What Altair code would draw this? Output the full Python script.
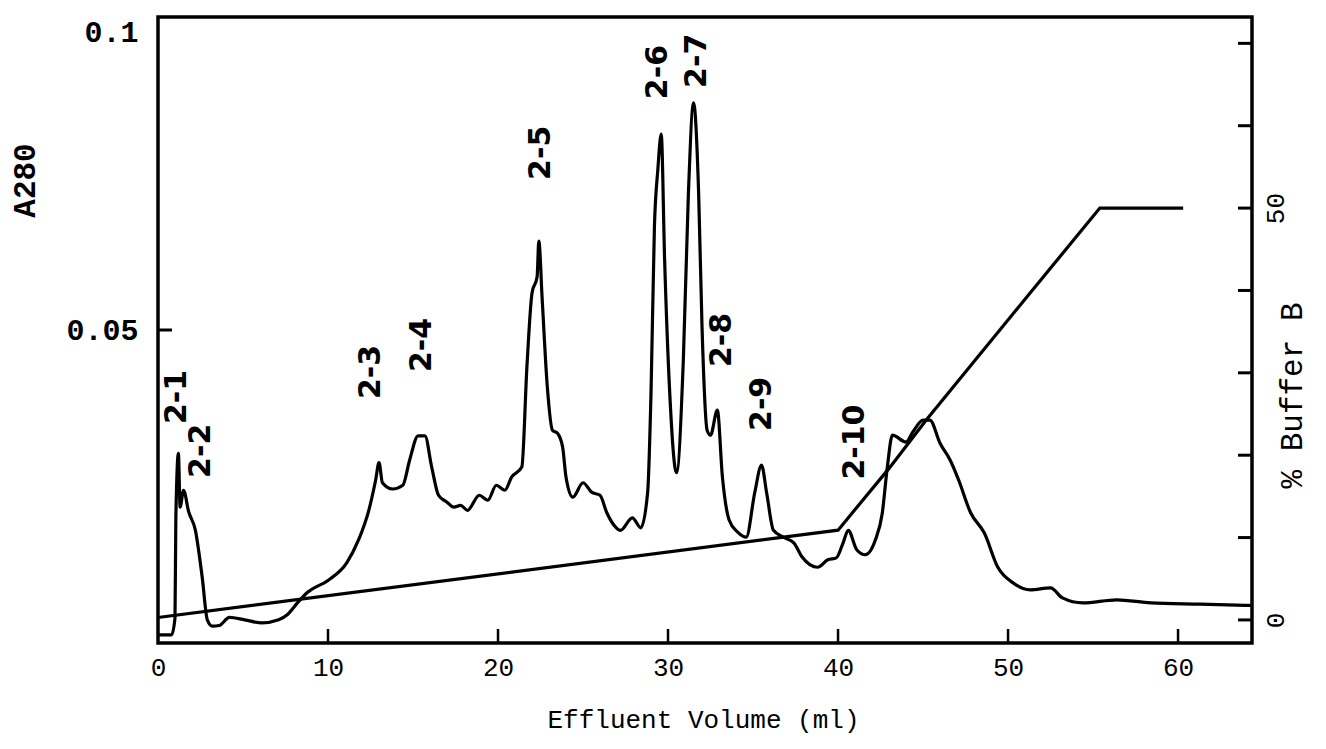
import altair as alt
import pandas as pd

# A280 trace: effluent volume (ml) and absorbance
vol = [0.0, 0.8, 1.0, 1.05, 1.2, 1.3, 1.5, 1.8, 2.2, 2.6, 2.9, 3.2, 3.6, 4.2, 5.1, 6.1,
       7.1, 7.6, 8.2, 8.8, 10.0, 11.1, 11.8, 12.4, 12.8, 13.0, 13.2, 13.8, 14.4, 14.8,
       15.3, 15.7, 16.1, 16.5, 17.0, 17.4, 17.8, 18.2, 18.9, 19.4, 19.9, 20.4, 20.8,
       21.4, 21.7, 22.0, 22.3, 22.4, 22.6, 22.9, 23.2, 23.5, 23.8, 24.0, 24.4, 25.0,
       25.5, 26.0, 26.4, 26.8, 27.2, 27.9, 28.4, 28.8, 29.0, 29.2, 29.4, 29.6, 29.8,
       30.1, 30.5, 30.9, 31.2, 31.5, 31.8, 32.0, 32.3, 32.5, 32.9, 33.2, 33.6, 34.1,
       34.6, 35.1, 35.5, 35.8, 36.2, 36.8, 37.4, 37.9, 38.8, 39.4, 39.9, 40.3, 40.6,
       41.1, 41.6, 42.2, 42.6, 42.9, 43.2, 44.0, 44.4, 45.0, 45.4, 46.0, 46.6, 47.1,
       47.8, 48.6, 49.4, 50.3, 51.3, 52.5, 53.2, 54.4, 56.4, 58.4, 61.3, 64.3]
a280 = [0.0013, 0.0013, 0.004, 0.020, 0.0303, 0.0217, 0.0244, 0.021, 0.018, 0.0105,
        0.0037, 0.0027, 0.0028, 0.0041, 0.0037, 0.0032, 0.0037, 0.0045, 0.0064, 0.0081,
        0.0100, 0.0128, 0.0165, 0.0212, 0.0260, 0.0288, 0.0256, 0.0246, 0.0252, 0.0292,
        0.0331, 0.0331, 0.0281, 0.0236, 0.0225, 0.0217, 0.0220, 0.0212, 0.0236, 0.0228,
        0.0252, 0.0244, 0.0265, 0.0281, 0.0441, 0.0559, 0.0585, 0.0642, 0.0548, 0.0409,
        0.0340, 0.0335, 0.0313, 0.0265, 0.0233, 0.0256, 0.0241, 0.0236, 0.0208, 0.0189,
        0.0180, 0.0200, 0.0184, 0.0240, 0.0400, 0.0665, 0.0756, 0.0813, 0.0612, 0.0400,
        0.0272, 0.0452, 0.0719, 0.0863, 0.0719, 0.0505, 0.0340, 0.0332, 0.0372, 0.0265,
        0.0196, 0.0177, 0.0169, 0.0240, 0.0284, 0.0240, 0.0180, 0.0169, 0.0160, 0.0137,
        0.0121, 0.0133, 0.0136, 0.0160, 0.0180, 0.0149, 0.0141, 0.0165, 0.0207, 0.0281,
        0.0332, 0.0321, 0.0337, 0.0356, 0.0356, 0.0319, 0.0292, 0.0260, 0.0208, 0.0176,
        0.0121, 0.0096, 0.0085, 0.0088, 0.0072, 0.0064, 0.0069, 0.0064, 0.0062, 0.0060]

# Buffer B gradient program
grad_vol = [0.0, 40.0, 43.0, 45.2, 50.9, 55.4, 60.3]
grad_pct = [0.3, 10.9, 18.4, 24.3, 38.7, 50.0, 50.0]

# Fraction labels
peak_names = ["2-1", "2-2", "2-3", "2-4", "2-5", "2-6", "2-7", "2-8", "2-9", "2-10"]
peak_vol = [1.1, 2.5, 12.5, 15.5, 22.5, 29.4, 31.7, 33.2, 35.5, 41.0]
peak_a = [0.0393, 0.0307, 0.0433, 0.0476, 0.0783, 0.0912, 0.0930, 0.0484, 0.0382, 0.0321]

x_ticks = [10, 20, 30, 40, 50, 60]
x_labels = [0, 10, 20, 30, 40, 50, 60]
left_ticks = [0.05]
right_ticks = [0, 10, 20, 30, 40, 50, 60, 70]

W, H = 1094, 626
MONO = "Liberation Mono"

trace_df = pd.DataFrame({"vol": vol, "a280": a280})
grad_df = pd.DataFrame({"vol": grad_vol, "pct": grad_pct})
peaks_df = pd.DataFrame({"name": peak_names, "vol": peak_vol, "a280": peak_a})

xscale = alt.Scale(domain=[0, 64.35], nice=False, zero=False)
yscale = alt.Scale(domain=[0, 0.1], nice=False)
rscale = alt.Scale(domain=[-2.8, 73.2], nice=False, zero=False)

x_enc = alt.X(
    "vol:Q", scale=xscale,
    axis=alt.Axis(values=x_labels, ticks=False, domain=False, grid=False,
                  labelFont=MONO, labelFontSize=26, labelColor="black",
                  labelPadding=11, labelFlush=False,
                  title="Effluent Volume (ml)", titleFont=MONO, titleFontSize=26,
                  titleFontWeight="normal", titleColor="black",
                  titleX=545, titleY=76, titleBaseline="middle"),
)

trace = alt.Chart(trace_df).mark_line(color="black", strokeWidth=3.2, interpolate="monotone").encode(
    x=x_enc,
    y=alt.Y("a280:Q", scale=yscale,
            axis=alt.Axis(orient="left", values=[0.05, 0.1], format="~g", ticks=False,
                          domain=False, grid=False, labelFont=MONO, labelFontSize=30,
                          labelFontWeight="bold", labelColor="black", labelPadding=20,
                          labelFlush=True,
                          title="A280", titleFont=MONO, titleFontSize=31,
                          titleFontWeight="bold", titleColor="black", titleAngle=270,
                          titleX=-133, titleY=163, titleAlign="center",
                          titleBaseline="middle")),
)

labels = alt.Chart(peaks_df).mark_text(
    angle=270, align="center", baseline="middle", font="DejaVu Sans",
    fontWeight="bold", fontSize=30, color="black",
).encode(x=alt.X("vol:Q", scale=xscale), y=alt.Y("a280:Q", scale=yscale), text="name:N")

left_tick = alt.Chart(pd.DataFrame({"v": left_ticks})).mark_rule(color="black", strokeWidth=3).encode(
    y=alt.Y("v:Q", scale=yscale), x=alt.value(0), x2=alt.value(14)
)

bottom_ticks = alt.Chart(pd.DataFrame({"v": x_ticks})).mark_rule(color="black", strokeWidth=2.5).encode(
    x=alt.X("v:Q", scale=xscale), y=alt.value(H), y2=alt.value(H - 14)
)

left_layer = alt.layer(trace, labels, left_tick, bottom_ticks)

gradient = alt.Chart(grad_df).mark_line(color="black", strokeWidth=3.2).encode(
    x=alt.X("vol:Q", scale=xscale),
    y=alt.Y("pct:Q", scale=rscale,
            axis=alt.Axis(orient="right", values=right_ticks, ticks=False, domain=False,
                          grid=False, labelExpr="datum.value == 0 || datum.value == 50 ? datum.label : ''",
                          labelFont=MONO, labelFontSize=26, labelColor="black",
                          labelAngle=270, labelAlign="center", labelBaseline="top",
                          labelPadding=10, labelFlush=False,
                          title="% Buffer B", titleFont=MONO, titleFontSize=31,
                          titleFontWeight="normal", titleColor="black", titleAngle=270,
                          titleX=40, titleY=378, titleAlign="center",
                          titleBaseline="middle")),
)

right_tick_marks = alt.Chart(pd.DataFrame({"p": right_ticks})).mark_rule(color="black", strokeWidth=3).encode(
    y=alt.Y("p:Q", scale=rscale), x=alt.value(W), x2=alt.value(W - 14)
)

right_layer = alt.layer(gradient, right_tick_marks)

chart = (
    alt.layer(left_layer, right_layer)
    .resolve_scale(y="independent")
    .properties(
        width=W, height=H,
        autosize=alt.AutoSizeParams(type="none"),
        padding={"left": 158, "top": 17, "right": 74, "bottom": 106},
        background="white",
    )
    .configure_view(stroke="black", strokeWidth=3.5)
)

chart.save("out.html", embed_options={"renderer": "svg", "actions": False})
